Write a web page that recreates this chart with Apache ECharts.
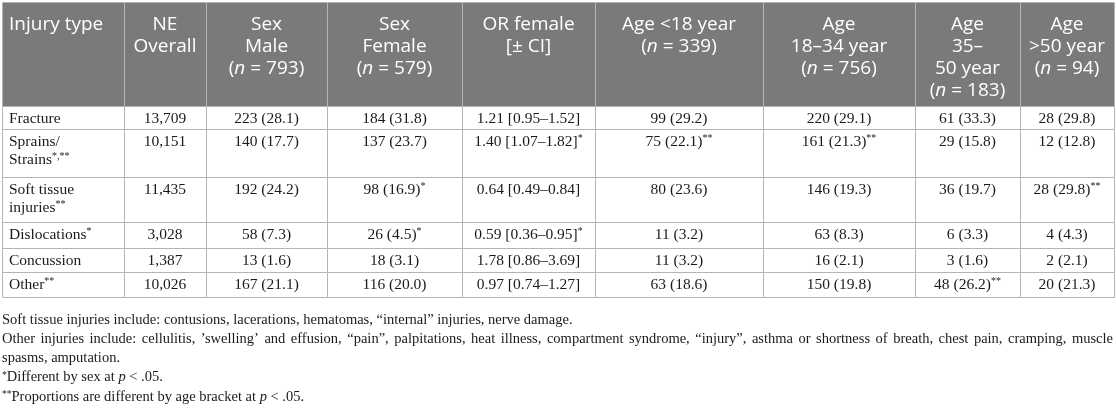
<!DOCTYPE html>
<html>
<head>
<meta charset="utf-8">
<title>Injury type by sex and age bracket</title>
<script src="https://cdn.jsdelivr.net/npm/echarts/dist/echarts.min.js"></script>
<style>
  html, body { margin: 0; padding: 0; background: #fff; }
  #table { width: 1116px; height: 408px; }
</style>
</head>
<body>
<div id="table"></div>
<script>
// table content
var headers = [
  'Injury type',
  'NE\nOverall',
  'Sex\nMale\n(n = 793)',
  'Sex\nFemale\n(n = 579)',
  'OR female\n[± CI]',
  'Age <18 year\n(n = 339)',
  'Age\n18–34 year\n(n = 756)',
  'Age\n35–\n50 year\n(n = 183)',
  'Age\n>50 year\n(n = 94)'
];
var injuryTypes = ['Fracture', 'Sprains/\nStrains*,**', 'Soft tissue\ninjuries**', 'Dislocations*', 'Concussion', 'Other**'];
var neOverall = ['13,709', '10,151', '11,435', '3,028', '1,387', '10,026'];
var sexMale = ['223 (28.1)', '140 (17.7)', '192 (24.2)', '58 (7.3)', '13 (1.6)', '167 (21.1)'];
var sexFemale = ['184 (31.8)', '137 (23.7)', '98 (16.9)*', '26 (4.5)*', '18 (3.1)', '116 (20.0)'];
var orFemale = ['1.21 [0.95–1.52]', '1.40 [1.07–1.82]*', '0.64 [0.49–0.84]', '0.59 [0.36–0.95]*', '1.78 [0.86–3.69]', '0.97 [0.74–1.27]'];
var ageUnder18 = ['99 (29.2)', '75 (22.1)**', '80 (23.6)', '11 (3.2)', '11 (3.2)', '63 (18.6)'];
var age18to34 = ['220 (29.1)', '161 (21.3)**', '146 (19.3)', '63 (8.3)', '16 (2.1)', '150 (19.8)'];
var age35to50 = ['61 (33.3)', '29 (15.8)', '36 (19.7)', '6 (3.3)', '3 (1.6)', '48 (26.2)**'];
var ageOver50 = ['28 (29.8)', '12 (12.8)', '28 (29.8)**', '4 (4.3)', '2 (2.1)', '20 (21.3)'];
var notes = [
  'Soft tissue injuries include: contusions, lacerations, hematomas, “internal” injuries, nerve damage.',
  'Other injuries include: cellulitis, ’swelling’ and effusion, “pain”, palpitations, heat illness, compartment syndrome, “injury”, asthma or shortness of breath, chest pain, cramping, muscle\nspasms, amputation.',
  '*Different by sex at p < .05.',
  '**Proportions are different by age bracket at p < .05.'
];

var columns = [neOverall, sexMale, sexFemale, orFemale, ageUnder18, age18to34, age35to50, ageOver50];

// layout, in pixels
var colEdges = [2, 124, 206, 327, 462, 595, 763, 915, 1020, 1114];
var rowEdges = [2, 106, 129, 177, 222, 248, 272, 297];
var headFont = '19px "Open Sans"';
var bodyFont = '15.5px "Liberation Serif"';
var noteFont = '14.5px "Liberation Serif"';
var noteTop = 320, noteStep = 19.2, noteLeft = 2, noteRight = 1113;

function markup(s) {
  return s.replace(/\(n = /g, '({i|n} = ').replace(/(\*[*,]*)/g, '{s|$1}');
}

var cells = [];
for (var r = 0; r < rowEdges.length - 1; r++) {
  for (var c = 0; c < colEdges.length - 1; c++) cells.push([c, r]);
}

function renderCell(params, api) {
  var c = api.value(0), r = api.value(1);
  var a = api.coord([colEdges[c], rowEdges[r]]);
  var b = api.coord([colEdges[c + 1], rowEdges[r + 1]]);
  var head = r === 0;
  var text = head ? headers[c] : (c === 0 ? injuryTypes[r - 1] : columns[c - 1][r - 1]);
  var ink = head ? '#ffffff' : '#1a1a1a';
  return {
    type: 'group',
    children: [{
      type: 'rect',
      shape: { x: Math.round(a[0]) + 0.5, y: Math.round(a[1]) + 0.5, width: b[0] - a[0], height: b[1] - a[1] },
      style: { fill: head ? '#7a7a7a' : '#ffffff', stroke: '#b4b4b4', lineWidth: 1 }
    }, {
      type: 'text',
      style: {
        text: markup(text),
        x: c === 0 ? a[0] + 7 : (a[0] + b[0]) / 2,
        y: a[1] + (head ? 12 : 4),
        align: c === 0 ? 'left' : 'center',
        verticalAlign: 'top',
        font: head ? headFont : bodyFont,
        fill: ink,
        lineHeight: head ? 22 : 18,
        rich: {
          i: { font: 'italic ' + headFont, fill: ink, lineHeight: 22 },
          s: { font: '10px "Liberation Serif"', fill: ink, verticalAlign: 'top', lineHeight: 11 }
        }
      }
    }]
  };
}

// footnotes: justified lines, last line of each note left as is
var measure = document.createElement('canvas').getContext('2d');
measure.font = noteFont;
function noteWord(w) {
  if (w === 'p') return '{i|p}';
  return w.replace(/^(\*+)/, '{s|$1}');
}
var noteItems = [];
var line = 0;
notes.forEach(function (note) {
  var lines = note.split('\n');
  lines.forEach(function (txt, k) {
    var y = noteTop + line * noteStep;
    var words = txt.split(' ');
    var last = k === lines.length - 1;
    if (last) {
      noteItems.push({
        type: 'text', x: noteLeft, y: y, silent: true,
        style: {
          text: words.map(noteWord).join(' '), font: noteFont, fill: '#1a1a1a', verticalAlign: 'middle',
          rich: {
            i: { font: 'italic ' + noteFont, fill: '#1a1a1a' },
            s: { font: '9.5px "Liberation Serif"', fill: '#1a1a1a', verticalAlign: 'top', lineHeight: 9 }
          }
        }
      });
    } else {
      var total = 0;
      var widths = words.map(function (w) { var m = measure.measureText(w).width; total += m; return m; });
      var gap = (noteRight - noteLeft - total) / (words.length - 1);
      var x = noteLeft;
      words.forEach(function (w, j) {
        noteItems.push({
          type: 'text', x: x, y: y, silent: true,
          style: { text: w, font: noteFont, fill: '#1a1a1a', verticalAlign: 'middle' }
        });
        x += widths[j] + gap;
      });
    }
    line++;
  });
});

var chart = echarts.init(document.getElementById('table'));
chart.setOption({
  animation: false,
  grid: { left: 0, right: 0, top: 0, bottom: 0 },
  xAxis: { type: 'value', min: 0, max: 1116, show: false },
  yAxis: { type: 'value', min: 0, max: 408, inverse: true, show: false },
  graphic: noteItems,
  series: [{
    type: 'custom',
    coordinateSystem: 'cartesian2d',
    silent: true,
    clip: false,
    data: cells,
    encode: { x: 0, y: 1 },
    renderItem: renderCell
  }]
});
</script>
</body>
</html>
